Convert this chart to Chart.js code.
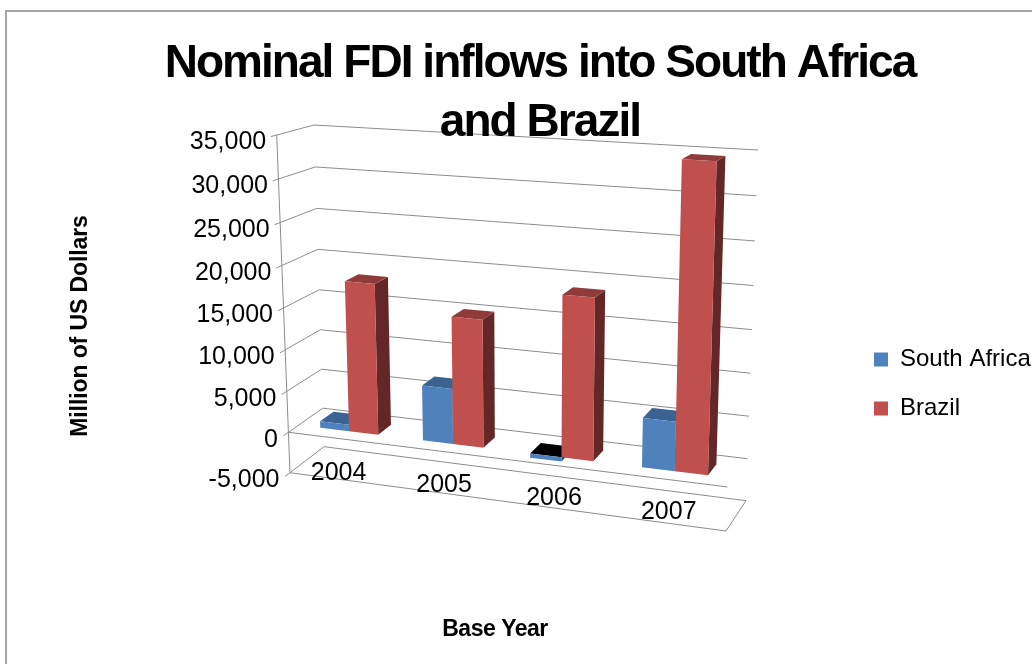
<!DOCTYPE html>
<html><head><meta charset="utf-8">
<style>html,body{margin:0;padding:0;background:#fff;overflow:hidden}#w{position:relative;width:1032px;height:664px}</style>
<script src="https://cdn.jsdelivr.net/npm/chart.js@4"></script>
</head><body><div id="w"><canvas id="c" width="1032" height="664"></canvas></div>
<script>
const categories = ['2004','2005','2006','2007'];
const southAfrica = [800, 6600, -500, 5700];
const brazil = [18100, 15100, 18800, 34600];
const yTickStep = 5000;
const yMin = -5000, yMax = 35000;
const titleLines = ['Nominal FDI inflows into South Africa','and Brazil'];
const yAxisTitle = 'Million of US Dollars';
const xAxisTitle = 'Base Year';
const FONT = '"Liberation Sans", Arial, sans-serif';

// 3D box corners (front/back, left/right, bottom/top)
const box = {
  flb:[290,472.7], flt:[276.7,135], frb:[726,531], frt:[737,163],
  blb:[324,446.7], blt:[314,125],   brb:[746,500.7], brt:[758,150]
};
const warp = (t,k)=> t/(1+k*(1-t));
function lerp(a,b,t){return [a[0]+(b[0]-a[0])*t, a[1]+(b[1]-a[1])*t];}
function proj(u,v,d){
  const U=warp(u,0.09), V=warp(v,0.05);
  const fb=lerp(box.flb,box.frb,U), ft=lerp(box.flt,box.frt,U);
  const bb=lerp(box.blb,box.brb,U), bt=lerp(box.blt,box.brt,U);
  return lerp(lerp(fb,ft,V),lerp(bb,bt,V),d);
}
function poly(ctx,pts,fill){
  ctx.beginPath();pts.forEach((p,i)=>i?ctx.lineTo(p[0],p[1]):ctx.moveTo(p[0],p[1]));ctx.closePath();
  ctx.fillStyle=fill;ctx.fill();
}
function seg(ctx,a,b){ctx.moveTo(a[0],a[1]);ctx.lineTo(b[0],b[1]);}
const D0=0.3,D1=0.7;
const faces=[{front:'#4F81BD',top:'#3A6392',side:'#2C4A6E'},{front:'#C0504D',top:'#8E3B39',side:'#632826'}];

const threeD={
  id:'threeD',
  afterLayout(chart){
    const t=chart.titleBlock; t.left+=28;
    const l=chart.legend; l.left=849; l.right=1032; l.top=302; l.bottom=466;
    if(!t._wrapped){t._wrapped=true;const dr=t.draw;t.draw=function(){const c=this.ctx;c.save();c.letterSpacing='-1.95px';dr.call(this);c.restore();};}
  },
  beforeDraw(chart){
    const ctx=chart.ctx,y=chart.scales.y;
    ctx.save();
    ctx.strokeStyle='#a6a6a6';ctx.lineWidth=2;
    ctx.beginPath();ctx.moveTo(6,664);ctx.lineTo(6,11);ctx.lineTo(1032,11);ctx.stroke();
    const V=val=>(y.bottom-y.getPixelForValue(val))/(y.bottom-y.top);
    ctx.strokeStyle='#8c8c8c';ctx.lineWidth=1;ctx.beginPath();
    y.ticks.forEach(tk=>{
      const v=V(tk.value),a=proj(0,v,0),b=proj(0,v,1),c=proj(1,v,1);
      const dx=(a[0]-b[0]),dy=(a[1]-b[1]),len=Math.hypot(dx,dy);
      seg(ctx,[a[0]+dx/len*6,a[1]+dy/len*6],b);seg(ctx,b,c);
    });
    // axis and floor
    seg(ctx,proj(0,1,0),proj(0,0,0));
    seg(ctx,proj(0,0,0),proj(1,0,0));seg(ctx,proj(1,0,0),proj(1,0,1));
    const z=V(0);seg(ctx,proj(0,z,0),proj(1,z,0));
    ctx.stroke();
    ctx.fillStyle='#000';ctx.font='25px '+FONT;ctx.textAlign='right';ctx.textBaseline='middle';
    ctx.letterSpacing='0px';
    y.ticks.forEach(tk=>{
      const p=proj(0,V(tk.value),0);
      ctx.fillText(tk.label,p[0]-10.5,p[1]+7.5);
    });
    const x=chart.scales.x;
    ctx.textAlign='center';
    categories.forEach((c,i)=>{
      const u=(x.getPixelForValue(i)-x.left)/(x.right-x.left),p=proj(u,0,0.25);
      ctx.fillText(c,p[0]-11+8*u,p[1]+0.67-5.33*u);
    });
    ctx.font='bold 23px '+FONT;ctx.letterSpacing='-0.1px';
    ctx.save();ctx.letterSpacing='-0.5px';ctx.fillText(xAxisTitle,495,630);ctx.restore();
    ctx.translate(81,326);ctx.rotate(-Math.PI/2);ctx.fillText(yAxisTitle,0,0);
    ctx.restore();
  },
  beforeDatasetsDraw(chart){
    const ctx=chart.ctx,a=chart.chartArea;
    const U=px=>(px-a.left)/(a.right-a.left),V=py=>(a.bottom-py)/(a.bottom-a.top);
    categories.forEach((_,i)=>{
      chart.data.datasets.forEach((ds,k)=>{
        const el=chart.getDatasetMeta(k).data[i],c=faces[k];
        const l=U(el.x-el.width/2),r=U(el.x+el.width/2);
        const hi=V(Math.min(el.y,el.base)),lo=V(Math.max(el.y,el.base));
        const neg=ds.data[i]<0;
        poly(ctx,[proj(r,lo,D0),proj(r,lo,D1),proj(r,hi,D1),proj(r,hi,D0)],c.side);
        poly(ctx,[proj(l,hi,D0),proj(r,hi,D0),proj(r,hi,D1),proj(l,hi,D1)],neg?'#000':c.top);
        poly(ctx,[proj(l,lo,D0),proj(r,lo,D0),proj(r,hi,D0),proj(l,hi,D0)],c.front);
      });
    });
    return false;
  }
};

new Chart(document.getElementById('c'),{
  type:'bar',
  data:{labels:categories,datasets:[
    {label:'South Africa',data:southAfrica,backgroundColor:faces[0].front,borderWidth:0},
    {label:'Brazil',data:brazil,backgroundColor:faces[1].front,borderWidth:0}
  ]},
  options:{
    responsive:false,animation:false,
    layout:{padding:{top:20,left:20,right:0,bottom:20}},
    datasets:{bar:{categoryPercentage:0.57,barPercentage:1}},
    scales:{
      x:{display:false},
      y:{display:false,min:yMin,max:yMax,ticks:{stepSize:yTickStep,callback:v=>v.toLocaleString('en-US')}}
    },
    plugins:{
      title:{display:true,text:titleLines,color:'#000',font:{family:FONT,size:46,weight:'bold',lineHeight:1.3},padding:{top:14,bottom:0}},
      legend:{display:true,position:'right',labels:{boxWidth:14,boxHeight:14,padding:25,color:'#000',font:{family:FONT,size:24}}},
      tooltip:{enabled:false}
    }
  },
  plugins:[threeD]
});
</script></body></html>
